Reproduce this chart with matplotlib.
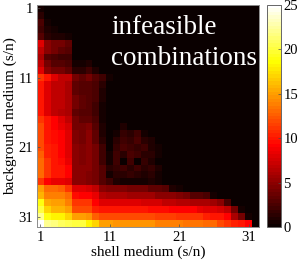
import numpy as np
import matplotlib
matplotlib.use("Agg")
import matplotlib.pyplot as plt
from matplotlib.colors import ListedColormap

# counts per (background medium row, shell medium column)
r01 = [0.5, 0.2]
r02 = [1.5, 0.3, 0.2]
r03 = [2.5, 0.5, 0.3, 0.2]
r04 = [2, 1, 0.5, 0.3]
r05 = [3, 1.5, 1, 1, 0.5]
r06 = [8, 5, 4, 4, 3.5, 0.3]
r07 = [7, 5, 4, 3.5, 3, 0.3]
r08 = [6, 3, 2.5, 2, 2, 0.2]
r09 = [7, 4, 3, 3, 2.5, 0.5, 0.5, 1, 0.3]
r10 = [8, 5, 4, 4, 3.5, 1.5, 1.5, 2, 1, 0.3]
r11 = [11, 10, 8, 7, 7, 4, 3.5, 4, 3, 2, 0.5]
r12 = [10, 8, 7, 7, 6, 3.5, 3, 3, 2.5, 1.5, 0.3]
r13 = [10, 8, 7, 7, 6, 3.5, 3, 3, 2.5, 1, 0.2]
r14 = [10, 8, 7, 7, 6, 4, 3.5, 3, 2.5, 1, 0.2]
r15 = [10, 8, 7, 7, 6, 4, 3.5, 3, 2, 0.5]
r16 = [10, 8, 7, 6.5, 6, 3.5, 3, 3, 2, 0.5]
r17 = [11, 10, 9, 8, 7, 4, 3.5, 3.5, 2.5, 0.5]
r18 = [12, 10, 9, 8.5, 7.5, 4, 4, 4.5, 3, 1, 0.3, 0.3, 0.8]
r19 = [12, 10, 9.5, 9, 8, 4.5, 4, 5, 3.5, 1, 0.3, 0.5, 1.8, 1.2, 2, 0.6, 0.3]
r20 = [12, 10, 9.5, 9, 8, 4.5, 4, 5, 3.5, 1.5, 0.3, 1.5, 2.2, 1.8, 2.5, 1.2, 0.8,
       0.3]
r21 = [12, 10.5, 10, 9, 8, 5, 4.5, 5, 4, 2, 0.3, 1.8, 2.5, 2, 1.8, 2.2, 1, 0.5]
r22 = [12.5, 10.5, 10, 9, 8, 5, 4.5, 5, 4, 2, 0.5, 2.2, 1.5, 2.5, 2, 1.5, 1.2,
       0.4]
r23 = [13, 11, 10, 9.5, 8.5, 5, 4.5, 5, 4, 2, 0.5, 2, 0.3, 2, 0.3, 1.8, 1, 0.3]
r24 = [13, 11, 10, 10, 9, 5, 5, 5, 4, 3, 1.5, 1.8, 2.2, 1.5, 2.2, 1.5, 1.8, 0.8]
r25 = [13, 11, 10, 10, 9, 5, 5, 4.5, 4, 3, 0.5, 1.5, 1.2, 1.8, 1.5, 1, 1.5, 0.5]
r26 = [11, 9, 8.5, 8.5, 8, 5, 5, 4.5, 4, 3, 2, 0.8, 0.5, 0.5, 0.5, 0.5, 1, 0.5]
r27 = [15, 13, 13, 12.5, 11, 8, 8, 7.5, 7, 5, 4.5, 4.5, 4.5, 4, 4, 4, 3.5, 3.5,
       3, 1, 0.5]
r28 = [16, 14, 14, 14, 13, 9.5, 9, 9, 8.5, 6.5, 6, 6, 6, 5.5, 5.5, 5.5, 5.5, 5,
       5, 5, 4.5, 4, 3, 3, 2.5, 0.5]
r29 = [19, 15.5, 15, 15, 14, 11, 11, 11, 9, 8, 8, 8, 8, 8, 8, 7.5, 7.5, 7.5, 7,
       7, 6.5, 6.5, 6, 6, 6, 5.5, 5, 2.5, 0.3]
r30 = [20, 17, 16, 16, 15, 12, 12, 12, 10.5, 10, 10, 10, 10, 10, 10, 10, 9.5,
       9.5, 9.5, 9, 9, 9, 9, 8.5, 8, 8, 7.5, 7, 4, 0.5]
r31 = [22, 19, 18, 18, 17, 15, 15, 14.5, 12.5, 12, 12, 12, 12, 12, 12, 12, 12,
       11.5, 11.5, 11.5, 11, 11, 11, 11, 10.5, 10, 10, 9, 6, 4, 0.5]
r32 = [25, 22, 21.5, 21, 20.5, 20, 20, 18, 17, 15, 15, 14.5, 14.5, 14.5, 14.5,
       14.5, 14.5, 14, 14, 14, 14, 13.5, 13.5, 13.5, 13, 13, 12, 11, 10.5, 10, 9]

rows = [r01, r02, r03, r04, r05, r06, r07, r08, r09, r10, r11, r12, r13, r14,
        r15, r16, r17, r18, r19, r20, r21, r22, r23, r24, r25, r26, r27, r28,
        r29, r30, r31, r32]
n_media = 32
tick_vals = [1, 11, 21, 31]
cbar_ticks = [0, 5, 10, 15, 20, 25]

grid = np.zeros((n_media, n_media))
for i, r in enumerate(rows):
    grid[i, :len(r)] = r

# matlab-like hot(64)
m = 64
n = int(3 / 8 * m)
red = np.r_[np.arange(1, n + 1) / n, np.ones(m - n)]
green = np.r_[np.zeros(n), np.arange(1, n + 1) / n, np.ones(m - 2 * n)]
blue = np.r_[np.zeros(2 * n), np.arange(1, m - 2 * n + 1) / (m - 2 * n)]
hot = ListedColormap(np.c_[red, green, blue])

plt.rcParams['font.family'] = ['Liberation Serif', 'DejaVu Serif']

fig = plt.figure(figsize=(3.0, 2.67), dpi=100)
ax = fig.add_axes([37 / 300, 40 / 267, 222 / 300, 222 / 267])
im = ax.imshow(grid, cmap=hot, vmin=0, vmax=25, interpolation='nearest',
               extent=[0.5, n_media + 0.5, n_media + 0.5, 0.5], aspect='auto')

ax.set_xticks(tick_vals)
ax.set_yticks(tick_vals)
ax.tick_params(direction='in', length=2.5, width=0.5, color='0.3',
               labelsize=10.5, pad=3)
for s in ax.spines.values():
    s.set_color('0.55')
    s.set_linewidth(0.7)
ax.set_xlabel('shell medium (s/n)', fontsize=11, labelpad=1)
ax.set_ylabel('background medium (s/n)', fontsize=11, labelpad=1)

ax.text(11.2, 1.9, 'infeasible\ncombinations', color='white', fontsize=19.5,
        ha='left', va='top', linespacing=1.35)

cax = fig.add_axes([266.5 / 300, 40 / 267, 14 / 300, 222 / 267])
cb = fig.colorbar(im, cax=cax, ticks=cbar_ticks)
cb.outline.set_edgecolor('0.4')
cb.outline.set_linewidth(0.7)
cax.tick_params(direction='in', length=2, width=0.5, color='0.3',
                labelsize=10.5, pad=2)

fig.savefig('out.png', dpi=100)
